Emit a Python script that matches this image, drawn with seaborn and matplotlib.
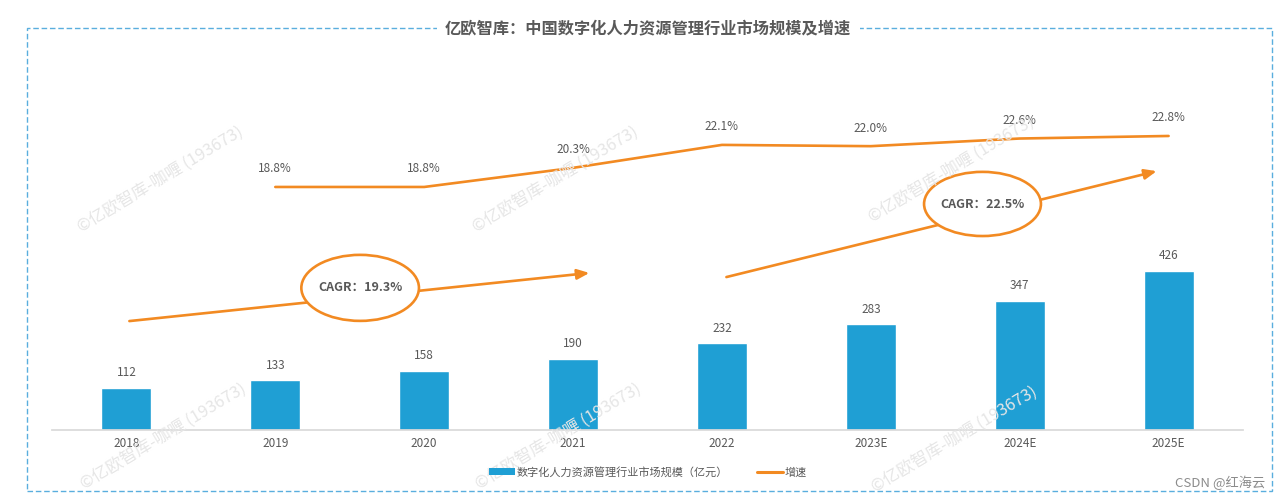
import matplotlib
matplotlib.use("Agg")
import matplotlib.pyplot as plt
from matplotlib.patches import Ellipse, Rectangle, Patch
from matplotlib.lines import Line2D
import pandas as pd
import seaborn as sns

# ── data ─────────────────────────────────────────────────────────────────────
YEARS = ["2018", "2019", "2020", "2021", "2022", "2023E", "2024E", "2025E"]
MARKET = [112, 133, 158, 190, 232, 283, 347, 426]          # 亿元
GROWTH = [None, 18.8, 18.8, 20.3, 22.1, 22.0, 22.6, 22.8]  # %
CAGR_LABELS = ["CAGR：19.3%", "CAGR：22.5%"]

TITLE = "亿欧智库：中国数字化人力资源管理行业市场规模及增速"
BAR_NAME = "数字化人力资源管理行业市场规模（亿元）"
LINE_NAME = "增速"

BLUE = "#1f9fd4"
ORANGE = "#f28a22"
TEXT = "#595959"

sns.set_theme(style="white")
plt.rcParams["font.family"] = ["Noto Sans CJK SC", "DejaVu Sans"]

df = pd.DataFrame({"year": YEARS, "market": MARKET, "growth": GROWTH})

fig = plt.figure(figsize=(12.86, 4.99), dpi=100)
ax = fig.add_axes([0.0404, 0.1383, 0.9262, 0.7415])

# ── bars ─────────────────────────────────────────────────────────────────────
sns.barplot(data=df, x="year", y="market", color=BLUE, width=0.336,
            saturation=1, ax=ax)
ax.set_ylim(0, 992)
for i, v in enumerate(MARKET):
    ax.annotate(str(v), (i, v), xytext=(0, 11), textcoords="offset points",
                ha="center", va="center", fontsize=8.5, color=TEXT)

# ── growth line ──────────────────────────────────────────────────────────────
ax2 = ax.twinx()
line_df = df.dropna(subset=["growth"]).copy()
line_df["pos"] = [YEARS.index(y) for y in line_df["year"]]
sns.lineplot(data=line_df, x="pos", y="growth", color=ORANGE, linewidth=1.9,
             ax=ax2)
ax2.set_ylim(-0.26, 28.76)
for p, g in zip(line_df["pos"], line_df["growth"]):
    ax2.annotate(f"{g:.1f}%", (p, g), xytext=(0, 13), textcoords="offset points",
                 ha="center", va="center", fontsize=8.5, color=TEXT)

ax.set_xlim(-0.5, len(YEARS) - 0.5)
for a in (ax, ax2):
    a.set_xlabel("")
    a.set_ylabel("")
    a.set_yticks([])
    for s in a.spines.values():
        s.set_visible(False)
ax.spines["bottom"].set_visible(True)
ax.spines["bottom"].set_color("#d9d9d9")
ax.tick_params(axis="x", length=0, labelsize=8.5, labelcolor=TEXT, pad=5)

# ── CAGR arrows + ellipses (bar-axis data coords) ────────────────────────────
arrows = [((0.02, 292), (3.11, 421)), ((4.03, 410), (6.92, 694))]
ellipses = [((1.57, 381), 0.79, 177), ((5.75, 606), 0.785, 172)]
for (start, end), (ctr, w, h), lab in zip(arrows, ellipses, CAGR_LABELS):
    ax.annotate("", xy=end, xytext=start,
                arrowprops=dict(arrowstyle="-|>,head_length=0.6,head_width=0.25",
                                color=ORANGE, lw=1.9, shrinkA=0, shrinkB=0),
                zorder=4)
    ax.add_patch(Ellipse(ctr, w, h, facecolor="white", edgecolor=ORANGE,
                         lw=1.9, zorder=5))
    ax.text(ctr[0], ctr[1], lab, ha="center", va="center", fontsize=9,
            fontweight="bold", color=TEXT, zorder=6)

# ── watermarks ───────────────────────────────────────────────────────────────
for wx, wy in [(0.125, 0.64), (0.432, 0.64), (0.74, 0.66),
               (0.127, 0.125), (0.434, 0.125), (0.742, 0.12)]:
    fig.text(wx, wy, "©亿欧智库-咖喱 (193673)", rotation=31, fontsize=12,
             color="#e6e6e6", ha="center", va="center", zorder=0)

# ── frame, title, legend ─────────────────────────────────────────────────────
fig.patches.append(Rectangle((27 / 1286, 8 / 499), 1245 / 1286, 463 / 499,
                             transform=fig.transFigure, fill=False,
                             edgecolor="#5aaede", lw=1.0, ls=(0, (4, 2)),
                             zorder=0))
fig.text(0.504, 1 - 28 / 499, TITLE, ha="center", va="center", fontsize=11.7,
         fontweight="bold", color=TEXT,
         bbox=dict(facecolor="white", edgecolor="none", pad=6))

handles = [Patch(facecolor=BLUE, edgecolor="none"),
           Line2D([0], [0], color=ORANGE, lw=2.2)]
fig.legend(handles, [BAR_NAME, LINE_NAME], loc="center",
           bbox_to_anchor=(0.504, 1 - 472 / 499), ncol=2, frameon=False,
           fontsize=8, handlelength=2.3, handleheight=0.6, columnspacing=2.6,
           handletextpad=0.2, labelcolor=TEXT)

fig.text(1220 / 1286, 1 - 483 / 499, "CSDN @红海云", ha="center", va="center",
         fontsize=9.5, color="#8c8c8c")

fig.savefig("out.png", dpi=100)
